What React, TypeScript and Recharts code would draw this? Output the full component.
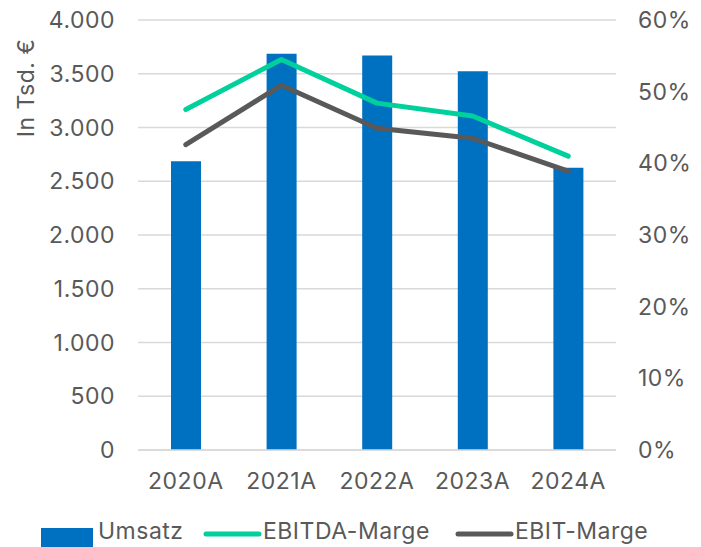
import React from 'react';
import { ComposedChart, Bar, Line, XAxis, YAxis, CartesianGrid, Legend } from 'recharts';

const categories = ['2020A', '2021A', '2022A', '2023A', '2024A'];
const umsatz = [2685, 3685, 3669, 3523, 2626];
const ebitdaMarge = [47.5, 54.5, 48.4, 46.6, 41.0];
const ebitMarge = [42.6, 50.9, 44.9, 43.5, 38.9];
const leftTicks = [0, 500, 1000, 1500, 2000, 2500, 3000, 3500, 4000];
const rightTicks = [0, 10, 20, 30, 40, 50, 60];

const data = categories.map((c, i) => ({
  name: c,
  umsatz: umsatz[i],
  ebitda: ebitdaMarge[i],
  ebit: ebitMarge[i],
}));

const FONT = 'Inter, "Noto Sans", sans-serif';
const FS = 23;
const LS = 0.5;
const TXT = '#595959';
const BLUE = '#0070C0';
const GREEN = '#00D09C';
const GRAY = '#595959';
const GRID = '#D9D9D9';

const fmtLeft = (v: number) => v.toLocaleString('de-DE');
const fmtRight = (v: number) => `${v}%`;

const tickStyle = { fill: TXT, fontSize: FS, fontFamily: FONT, letterSpacing: LS };

const YLabel = (props: any) => {
  const vb = props.viewBox || {};
  const cx = 26;
  const cy = (vb.y || 20) + 68;
  return (
    <text
      x={cx}
      y={cy}
      transform={`rotate(-90, ${cx}, ${cy})`}
      textAnchor="middle"
      dominantBaseline="central"
      fill={TXT}
      fontSize={FS}
      fontFamily={FONT}
      letterSpacing={LS}
    >
      In Tsd. €
    </text>
  );
};

const LegendContent = () => (
  <svg width={701} height={37} style={{ display: 'block' }}>
    <rect x={41} y={18} width={52} height={20} fill={BLUE} />
    <text x={98} y={29} fill={TXT} fontSize={FS} fontFamily={FONT} letterSpacing={LS}>Umsatz</text>
    <line x1={206} y1={24} x2={259} y2={24} stroke={GREEN} strokeWidth={5} strokeLinecap="round" />
    <text x={263} y={29} fill={TXT} fontSize={FS} fontFamily={FONT} letterSpacing={LS}>EBITDA-Marge</text>
    <line x1={458} y1={24} x2={511} y2={24} stroke={GRAY} strokeWidth={5} strokeLinecap="round" />
    <text x={515} y={29} fill={TXT} fontSize={FS} fontFamily={FONT} letterSpacing={LS}>EBIT-Marge</text>
  </svg>
);

export default function App() {
  return (
    <div style={{ position: 'absolute', left: 0, top: 0, width: 701, height: 547, background: '#fff' }}>
      <ComposedChart
        width={701}
        height={547}
        data={data}
        margin={{ top: 20, right: 0, bottom: 0, left: 0 }}
      >
        <CartesianGrid yAxisId="left" vertical={false} stroke={GRID} strokeWidth={1.5} />
        <XAxis
          dataKey="name"
          height={60}
          tickLine={false}
          tickSize={0}
          tickMargin={23}
          axisLine={{ stroke: GRID, strokeWidth: 1.5 }}
          tick={tickStyle}
        />
        <YAxis
          yAxisId="left"
          orientation="left"
          width={138}
          domain={[0, 4000]}
          ticks={leftTicks}
          tickFormatter={fmtLeft}
          axisLine={false}
          tickLine={false}
          tickSize={0}
          tickMargin={23}
          tick={tickStyle}
          label={<YLabel />}
        />
        <YAxis
          yAxisId="right"
          orientation="right"
          width={85}
          domain={[0, 60]}
          ticks={rightTicks}
          tickFormatter={fmtRight}
          axisLine={false}
          tickLine={false}
          tickSize={0}
          tickMargin={22}
          tick={{ ...tickStyle, textAnchor: 'start' }}
        />
        <Legend
          verticalAlign="bottom"
          height={37}
          wrapperStyle={{ left: 0, bottom: 0, width: 701, height: 37 }}
          content={<LegendContent />}
        />
        <Bar yAxisId="left" dataKey="umsatz" name="Umsatz" fill={BLUE} barSize={30} isAnimationActive={false} />
        <Line
          yAxisId="right"
          dataKey="ebitda"
          name="EBITDA-Marge"
          stroke={GREEN}
          strokeWidth={5}
          strokeLinecap="round"
          strokeLinejoin="round"
          dot={false}
          activeDot={false}
          isAnimationActive={false}
        />
        <Line
          yAxisId="right"
          dataKey="ebit"
          name="EBIT-Marge"
          stroke={GRAY}
          strokeWidth={5}
          strokeLinecap="round"
          strokeLinejoin="round"
          dot={false}
          activeDot={false}
          isAnimationActive={false}
        />
      </ComposedChart>
    </div>
  );
}
